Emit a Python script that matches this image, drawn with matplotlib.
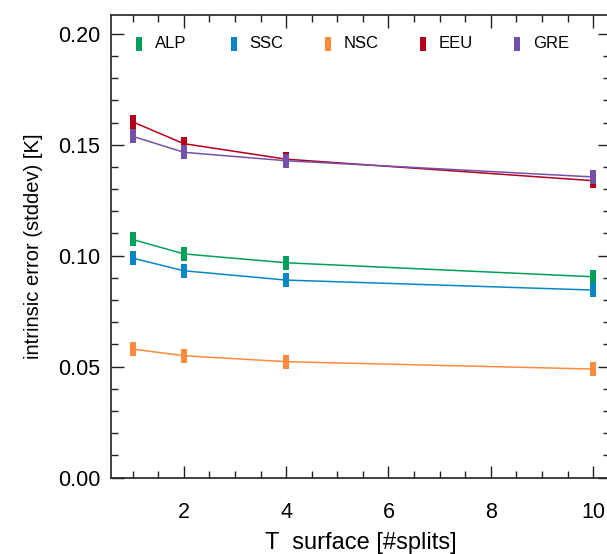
import matplotlib
matplotlib.use("Agg")
import matplotlib.pyplot as plt
from matplotlib.ticker import MultipleLocator, FormatStrFormatter

plt.rcParams['font.family'] = ['Liberation Sans', 'DejaVu Sans']

splits = [1, 2, 4, 10]
series_names = ["ALP", "SSC", "NSC", "EEU", "GRE"]
alp = [0.1073, 0.1008, 0.0968, 0.0905]
ssc = [0.0989, 0.0932, 0.0890, 0.0845]
nsc = [0.0579, 0.0549, 0.0522, 0.0489]
eeu = [0.1603, 0.1505, 0.1435, 0.1338]
gre = [0.1538, 0.1466, 0.1428, 0.1355]
colors = ["#00a05a", "#0a86c6", "#ff8a3d", "#b3001b", "#7451a8"]

rect = [(-0.5, -1.0), (0.5, -1.0), (0.5, 1.0), (-0.5, 1.0), (-0.5, -1.0)]

fig = plt.figure(figsize=(6.07, 5.54), dpi=100)
W, H = 607, 554
ax = fig.add_axes([110.7 / W, 1 - 477.5 / H, (610 - 110.7) / W, (477.5 - 15) / H])

for name, vals, c in zip(series_names, [alp, ssc, nsc, eeu, gre], colors):
    ax.plot(splits, vals, color=c, lw=1.1, marker=rect, markersize=10,
            markeredgewidth=0, markerfacecolor=c)

ax.set_xlim(0.57, 10.33)
ax.set_ylim(0, 0.2085)
ax.xaxis.set_major_locator(MultipleLocator(2))
ax.xaxis.set_minor_locator(MultipleLocator(0.5))
ax.yaxis.set_major_locator(MultipleLocator(0.05))
ax.yaxis.set_minor_locator(MultipleLocator(0.01))
ax.yaxis.set_major_formatter(FormatStrFormatter('%.2f'))
ax.tick_params(which='both', direction='in', top=True, right=True, width=1.0, color='#222222')
ax.tick_params(which='major', length=9)
ax.tick_params(which='minor', length=5)
ax.tick_params(axis='x', which='major', pad=18, labelsize=15.5)
ax.tick_params(axis='y', which='major', pad=7.5, labelsize=15.5)
for s in ax.spines.values():
    s.set_linewidth(1.2)
    s.set_color('#222222')

ax.set_xlabel("T  surface [#splits]", fontsize=17, labelpad=6)
ax.set_ylabel("intrinsic error (stddev) [K]", fontsize=14.5, labelpad=11)

# legend row
y0 = (477.5 - 44) / (477.5 - 15)
for i, (name, c) in enumerate(zip(series_names, colors)):
    x0 = (139 - 110.7) / (610 - 110.7) + i * 94.5 / (610 - 110.7)
    ax.plot([x0], [y0], transform=ax.transAxes, marker=rect, markersize=9.5,
            markeredgewidth=0, color=c, clip_on=False, linestyle='none')
    ax.text(x0 + 16 / (610 - 110.7), y0, name, transform=ax.transAxes,
            va='center', ha='left', fontsize=12)

fig.savefig("out.png", dpi=100)
